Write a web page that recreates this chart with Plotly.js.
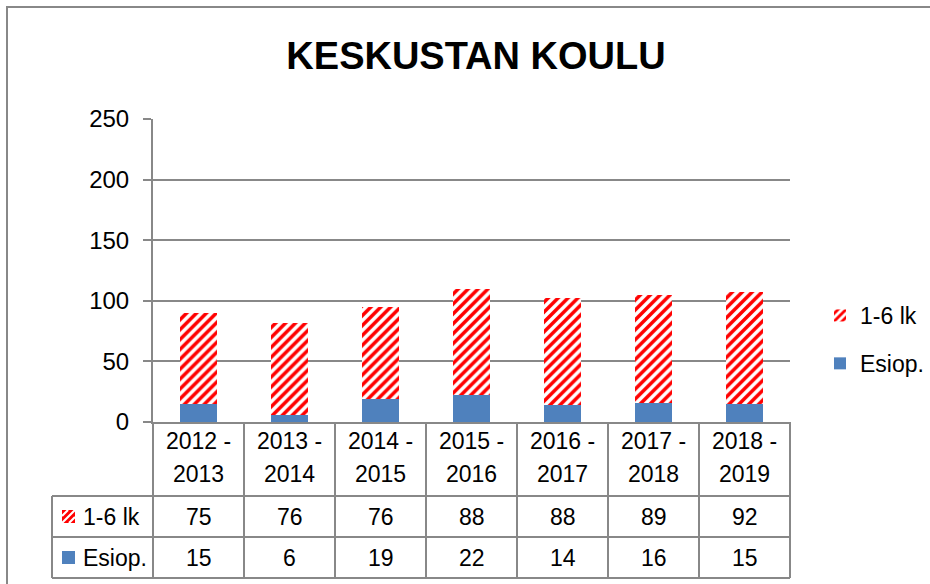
<!DOCTYPE html>
<html>
<head>
<meta charset="utf-8">
<script src="https://cdn.plot.ly/plotly-3.0.1.min.js"></script>
<style>html,body{margin:0;padding:0;background:#fff;}#chart{width:930px;height:584px;}</style>
</head>
<body>
<div id="chart"></div>
<script>
// ---- data ----
const categories = ['2012 - 2013', '2013 - 2014', '2014 - 2015', '2015 - 2016', '2016 - 2017', '2017 - 2018', '2018 - 2019'];
const esiop = [15, 6, 19, 22, 14, 16, 15];
const lk16 = [75, 76, 76, 88, 88, 89, 92];
const seriesNames = ['1-6 lk', 'Esiop.'];
const titleText = 'KESKUSTAN KOULU';

// ---- layout constants (pixels) ----
const W = 930, H = 584;
const L = 153, R = 790, T = 119, B = 422;
const px = X => (X - L) / (R - L);
const py = Y => (B - Y) / (B - T);
const FONT = 'Liberation Sans, Arial, sans-serif';
const GRID = '#888888';
const RED = '#ff0000';
const BLUE = '#4f81bd';

const rowY = [496, 537, 578];         // table horizontal lines
const rowCenter = [516.5, 557.5];     // value rows
const headCenter = [441, 474];        // header text lines
const tableLeft = 52;

const shapes = [];
// outer chart border (left and top)
shapes.push({type: 'path', xref: 'paper', yref: 'paper',
  path: `M ${px(7)} ${py(H + 5)} L ${px(7)} ${py(7)} L ${px(W + 5)} ${py(7)}`,
  line: {color: GRID, width: 2}});
// vertical column lines of the table
for (let i = 0; i <= categories.length; i++) {
  const X = L + i * (R - L) / categories.length;
  shapes.push({type: 'line', xref: 'paper', yref: 'paper', x0: px(X), x1: px(X), y0: py(B), y1: py(rowY[2]),
    line: {color: GRID, width: 2}});
}
// horizontal lines of the table
rowY.forEach(Y => shapes.push({type: 'line', xref: 'paper', yref: 'paper', x0: px(tableLeft), x1: px(R), y0: py(Y), y1: py(Y),
  line: {color: GRID, width: 2}}));
// left edge of label column
shapes.push({type: 'line', xref: 'paper', yref: 'paper', x0: px(tableLeft), x1: px(tableLeft), y0: py(rowY[0]), y1: py(rowY[2]),
  line: {color: GRID, width: 2}});

// swatches in table
function stripedSwatch(x0, y0, s) {
  shapes.push({type: 'rect', xref: 'paper', yref: 'paper', x0: px(x0), x1: px(x0 + s), y0: py(y0 + s), y1: py(y0),
    fillcolor: RED, line: {width: 0}});
  const segs = [
    [[x0, y0 + 6], [x0 + 6, y0]],
    [[x0, y0 + s], [x0 + s, y0]],
    [[x0 + 7, y0 + s], [x0 + s, y0 + 7]]
  ];
  segs.forEach(sg => shapes.push({type: 'line', xref: 'paper', yref: 'paper',
    x0: px(sg[0][0]), y0: py(sg[0][1]), x1: px(sg[1][0]), y1: py(sg[1][1]),
    line: {color: '#ffffff', width: 2.2}}));
}
stripedSwatch(62, rowCenter[0] - 6.5, 13);
shapes.push({type: 'rect', xref: 'paper', yref: 'paper', x0: px(62), x1: px(75), y0: py(rowCenter[1] + 6.5), y1: py(rowCenter[1] - 6.5),
  fillcolor: BLUE, line: {width: 0}});

const annotations = [];
const tfont = {family: FONT, size: 23, color: '#000'};
categories.forEach((c, i) => {
  const parts = c.split(' - ');
  annotations.push({xref: 'x', yref: 'paper', x: c, y: py(headCenter[0]), text: parts[0] + ' -', showarrow: false, font: tfont, xanchor: 'center', yanchor: 'middle'});
  annotations.push({xref: 'x', yref: 'paper', x: c, y: py(headCenter[1]), text: parts[1], showarrow: false, font: tfont, xanchor: 'center', yanchor: 'middle'});
  annotations.push({xref: 'x', yref: 'paper', x: c, y: py(rowCenter[0]), text: String(lk16[i]), showarrow: false, font: tfont, xanchor: 'center', yanchor: 'middle'});
  annotations.push({xref: 'x', yref: 'paper', x: c, y: py(rowCenter[1]), text: String(esiop[i]), showarrow: false, font: tfont, xanchor: 'center', yanchor: 'middle'});
});
seriesNames.forEach((n, k) => annotations.push({xref: 'paper', yref: 'paper', x: px(81), y: py(rowCenter[k]), text: n,
  showarrow: false, font: tfont, xanchor: 'left', yanchor: 'middle'}));

const traces = [
  {type: 'bar', name: seriesNames[1], x: categories, y: esiop, marker: {color: BLUE, line: {width: 0}}, legendgroup: 'b', legendrank: 2},
  {type: 'bar', name: seriesNames[0], x: categories, y: lk16, legendgroup: 'a', legendrank: 1,
   marker: {color: RED, line: {width: 0}, pattern: {shape: '/', fgcolor: RED, bgcolor: '#ffffff', fgopacity: 1, size: 7, solidity: 0.5, fillmode: 'replace'}}}
];

const layout = {
  width: W, height: H,
  margin: {l: L, r: W - R, t: T, b: H - B, pad: 0, autoexpand: false},
  paper_bgcolor: '#fff', plot_bgcolor: '#fff',
  font: {family: FONT, size: 23, color: '#000'},
  title: {text: '<b>' + titleText + '</b>', font: {family: FONT, size: 38, color: '#000'},
    xref: 'container', yref: 'container', x: 476 / W, y: 1 - 56 / H, xanchor: 'center', yanchor: 'middle', automargin: false},
  barmode: 'stack', bargap: 0.6,
  xaxis: {type: 'category', range: [-0.5, categories.length - 0.5], showticklabels: false, ticks: '', showgrid: false,
    showline: true, linecolor: GRID, linewidth: 2, zeroline: false, fixedrange: true, automargin: false},
  yaxis: {range: [0, 250], dtick: 50, tick0: 0, showgrid: true, gridcolor: GRID, gridwidth: 2, zeroline: false,
    showline: true, linecolor: GRID, linewidth: 2, ticks: 'outside', ticklen: 8, tickwidth: 2, tickcolor: GRID,
    ticklabelstandoff: 9, tickfont: {family: FONT, size: 24, color: '#000'}, fixedrange: true, automargin: false},
  legend: {x: px(820), y: py(294), xanchor: 'left', yanchor: 'top', traceorder: 'grouped', tracegroupgap: 15,
    font: {family: FONT, size: 23, color: '#000'}, bgcolor: 'rgba(0,0,0,0)', itemwidth: 30},
  shapes: shapes,
  annotations: annotations
};

Plotly.newPlot('chart', traces, layout, {staticPlot: true, displayModeBar: false});
</script>
</body>
</html>
